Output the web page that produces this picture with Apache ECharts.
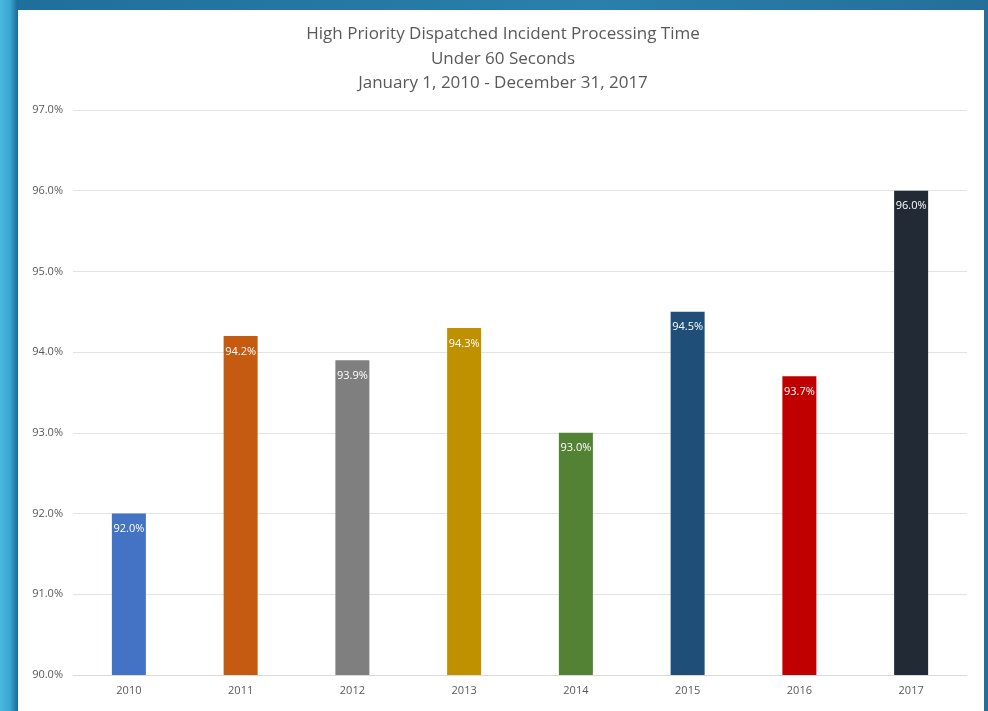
<!DOCTYPE html>
<html>
<head>
<meta charset="utf-8">
<script src="https://cdn.jsdelivr.net/npm/echarts@6/dist/echarts.min.js"></script>
<style>
  html, body { margin: 0; padding: 0; width: 988px; height: 711px; overflow: hidden; }
  #frame {
    position: absolute; left: 0; top: 0; width: 988px; height: 711px;
    background: linear-gradient(90deg, #49b8df 0px, #3aa6d2 10px, #1f6f9c 17px, #2a7fab 60%, #236f9a 100%);
  }
  #panel {
    position: absolute; left: 18px; top: 10px; width: 966px; height: 701px;
    background: #ffffff;
  }
  #chart { position: absolute; left: 0; top: 0; width: 988px; height: 711px; }
</style>
</head>
<body>
<div id="frame"></div>
<div id="panel"></div>
<div id="chart"></div>
<script>
// Share of high-priority dispatched incidents processed in under 60 seconds
const years = ['2010', '2011', '2012', '2013', '2014', '2015', '2016', '2017'];
const percentUnder60 = [92.0, 94.2, 93.9, 94.3, 93.0, 94.5, 93.7, 96.0];
const barColors = ['#4472C4', '#C55A11', '#7F7F7F', '#BF9000', '#548235', '#1F4E79', '#C00000', '#222A35'];
const titleLines = [
  'High Priority Dispatched Incident Processing Time',
  'Under 60 Seconds',
  'January 1, 2010 - December 31, 2017'
];

const chart = echarts.init(document.getElementById('chart'));
chart.setOption({
  backgroundColor: 'transparent',
  animation: false,
  title: {
    text: titleLines.join('\n'),
    left: 498,
    textAlign: 'center',
    top: 17,
    textStyle: {
      fontFamily: "'Open Sans', sans-serif",
      fontSize: 17,
      fontWeight: 'normal',
      color: '#595959',
      lineHeight: 24.5
    }
  },
  grid: { left: 73, right: 21, top: 110, bottom: 36, containLabel: false },
  xAxis: {
    type: 'category',
    data: years,
    axisLine: { show: true, lineStyle: { color: '#d9d9d9', width: 1 } },
    axisTick: { show: false },
    axisLabel: { color: '#595959', fontSize: 11, fontFamily: "'Open Sans', sans-serif", margin: 10 }
  },
  yAxis: {
    type: 'value',
    min: 90,
    max: 97,
    interval: 1,
    axisLine: { show: false },
    axisTick: { show: false },
    splitLine: { lineStyle: { color: '#e3e3e3', width: 1 } },
    axisLabel: {
      color: '#595959', fontSize: 11, fontFamily: "'Open Sans', sans-serif", margin: 10,
      formatter: v => v.toFixed(1) + '%'
    }
  },
  series: [{
    type: 'bar',
    data: percentUnder60.map((v, i) => ({ value: v, itemStyle: { color: barColors[i] } })),
    barWidth: 34,
    label: {
      show: true,
      position: 'insideTop',
      distance: 10,
      color: '#ffffff',
      fontSize: 11,
      fontFamily: "'Open Sans', sans-serif",
      formatter: p => p.value.toFixed(1) + '%'
    }
  }]
});
</script>
</body>
</html>
